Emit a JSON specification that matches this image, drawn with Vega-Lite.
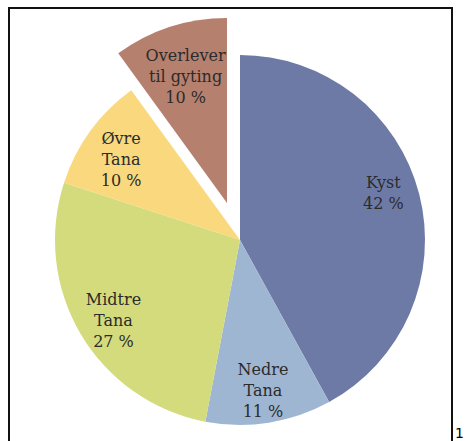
{
  "$schema": "https://vega.github.io/schema/vega-lite/v6.json",
  "width": 443,
  "height": 440,
  "autosize": "none",
  "padding": {"left": 9, "top": 8, "right": 13, "bottom": 0},
  "background": "white",
  "config": {"view": {"stroke": null}},
  "data": {
    "values": [
      {"omrade": "Kyst", "andel": 42, "rekkefolge": 1, "etikett": "Kyst\n42 %", "linjer": 2, "utskilt": false},
      {"omrade": "Nedre Tana", "andel": 11, "rekkefolge": 2, "etikett": "Nedre\nTana\n11 %", "linjer": 3, "utskilt": false},
      {"omrade": "Midtre Tana", "andel": 27, "rekkefolge": 3, "etikett": "Midtre\nTana\n27 %", "linjer": 3, "utskilt": false},
      {"omrade": "Øvre Tana", "andel": 10, "rekkefolge": 4, "etikett": "Øvre\nTana\n10 %", "linjer": 3, "utskilt": false},
      {"omrade": "Overlever til gyting", "andel": 10, "rekkefolge": 5, "etikett": "Overlever\ntil gyting\n10 %", "linjer": 3, "utskilt": true}
    ]
  },
  "layer": [
    {
      "mark": {"type": "arc", "outerRadius": 185, "xOffset": 9.5, "yOffset": 12},
      "encoding": {
        "theta": {"field": "andel", "type": "quantitative", "stack": true},
        "order": {"field": "rekkefolge", "type": "quantitative"},
        "color": {
          "field": "omrade", "type": "nominal", "legend": null,
          "scale": {
            "domain": ["Kyst", "Nedre Tana", "Midtre Tana", "Øvre Tana", "Overlever til gyting"],
            "range": ["#6e7aa6", "#9fb6d2", "#d4db7c", "#f9d87e", "#b6806f"]
          }
        },
        "opacity": {"condition": {"test": "datum.utskilt", "value": 0}, "value": 1}
      }
    },
    {
      "mark": {"type": "arc", "outerRadius": 185, "xOffset": -3.5, "yOffset": -25},
      "encoding": {
        "theta": {"field": "andel", "type": "quantitative", "stack": true},
        "order": {"field": "rekkefolge", "type": "quantitative"},
        "color": {"field": "omrade", "type": "nominal", "legend": null},
        "opacity": {"condition": {"test": "datum.utskilt", "value": 1}, "value": 0}
      }
    },
    {
      "mark": {"type": "text", "radius": 148, "xOffset": 9.5, "yOffset": 12, "dy": -20.5, "font": "DejaVu Serif", "fontSize": 16, "lineHeight": 21, "lineBreak": "\n", "color": "#2b2b2b", "align": "center", "baseline": "middle"},
      "encoding": {
        "theta": {"field": "andel", "type": "quantitative", "stack": true},
        "order": {"field": "rekkefolge", "type": "quantitative"},
        "text": {"field": "etikett"},
        "opacity": {"condition": {"test": "datum.linjer == 2", "value": 1}, "value": 0}
      }
    },
    {
      "mark": {"type": "text", "radius": 147, "xOffset": 9.5, "yOffset": 12, "dy": -15, "font": "DejaVu Serif", "fontSize": 16, "lineHeight": 21, "lineBreak": "\n", "color": "#2b2b2b", "align": "center", "baseline": "middle"},
      "encoding": {
        "theta": {"field": "andel", "type": "quantitative", "stack": true},
        "order": {"field": "rekkefolge", "type": "quantitative"},
        "text": {"field": "etikett"},
        "opacity": {"condition": {"test": "datum.linjer == 3 && !datum.utskilt", "value": 1}, "value": 0}
      }
    },
    {
      "mark": {"type": "text", "radius": 134, "xOffset": -3.5, "yOffset": -25, "dy": -20, "font": "DejaVu Serif", "fontSize": 16, "lineHeight": 21, "lineBreak": "\n", "color": "#2b2b2b", "align": "center", "baseline": "middle"},
      "encoding": {
        "theta": {"field": "andel", "type": "quantitative", "stack": true},
        "order": {"field": "rekkefolge", "type": "quantitative"},
        "text": {"field": "etikett"},
        "opacity": {"condition": {"test": "datum.utskilt", "value": 1}, "value": 0}
      }
    },
    {
      "data": {"values": [{"ramme": "boks"}]},
      "mark": {"type": "rect", "fill": null, "stroke": "#111111", "strokeWidth": 2},
      "encoding": {}
    },
    {
      "data": {"values": [{"side": "11"}]},
      "mark": {"type": "text", "x": {"expr": "width + 3"}, "y": 430, "align": "left", "baseline": "alphabetic", "font": "DejaVu Sans", "fontSize": 14, "color": "#000000"},
      "encoding": {"text": {"field": "side"}}
    }
  ]
}
